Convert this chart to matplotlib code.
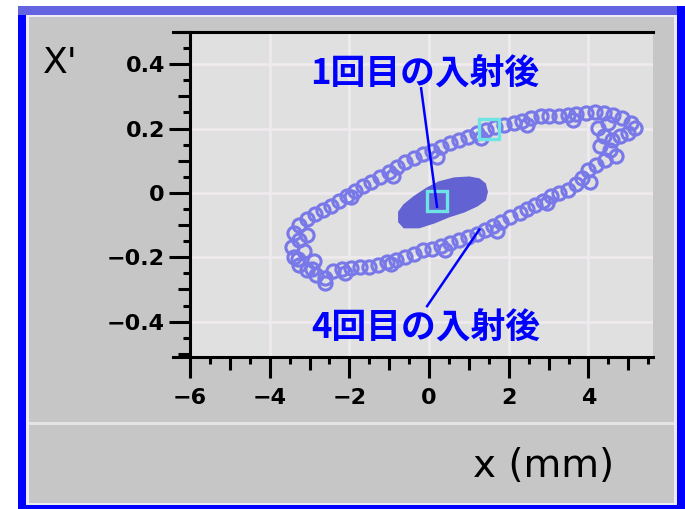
import matplotlib
matplotlib.use("Agg")
import matplotlib.pyplot as plt
from matplotlib.patches import Rectangle
from matplotlib.lines import Line2D
from matplotlib.ticker import MultipleLocator, FuncFormatter

# phase-space points after the 4th injection (x in mm, x')
ring_x = [-3.40, -3.27, -3.07, -2.87, -2.67, -2.47, -2.27, -2.07, -1.86, -1.66,
          -1.46, -1.23, -1.01, -0.81, -0.60, -0.38, -0.15, 0.08, 0.30, 0.53,
          0.76, 0.98, 1.21, 1.44, 1.66, 1.89, 2.12, 2.34, 2.57, 2.80,
          3.02, 3.25, 3.48, 3.70, 3.93, 4.16, 4.38, 4.61, 4.84, 5.06, 5.16,
          4.99, 4.79, 4.58, 4.38, 4.23, 4.28, 4.53, 4.69, 4.41, 4.18,
          3.98, 3.83, 4.03, 3.68, 3.48, 3.27, 3.07, 2.87, 2.67, 2.47,
          2.27, 2.04, 1.81, 1.61, 1.41, 1.21, 0.98, 0.76, 0.53, 0.30,
          0.08, -0.15, -0.38, -0.60, -0.83, -1.06, -1.28, -1.51, -1.74, -1.96,
          -2.19, -2.42, -2.62, -2.62, -2.85, -3.07, -3.27, -3.40, -3.45, -3.27,
          -3.07, -3.15, -2.90, -3.30, -2.95, -1.95, -0.90, 0.20, 1.30, 2.45,
          3.60, 4.50, 2.95, 1.70, 0.40, -0.95, -2.10]
ring_y = [-0.124, -0.099, -0.080, -0.065, -0.053, -0.040, -0.025, -0.009, 0.006, 0.022,
          0.034, 0.049, 0.065, 0.080, 0.096, 0.108, 0.121, 0.130, 0.142, 0.155,
          0.164, 0.173, 0.185, 0.195, 0.204, 0.210, 0.216, 0.222, 0.232, 0.238,
          0.238, 0.238, 0.241, 0.244, 0.247, 0.250, 0.247, 0.241, 0.232, 0.216, 0.201,
          0.185, 0.176, 0.164, 0.176, 0.201, 0.145, 0.133, 0.114, 0.102, 0.087,
          0.071, 0.046, 0.034, 0.028, 0.009, 0.000, -0.009, -0.025, -0.037, -0.049,
          -0.062, -0.074, -0.090, -0.102, -0.114, -0.127, -0.136, -0.145, -0.155, -0.164,
          -0.173, -0.179, -0.189, -0.198, -0.207, -0.216, -0.223, -0.229, -0.229, -0.232,
          -0.238, -0.244, -0.263, -0.281, -0.256, -0.241, -0.223, -0.198, -0.167, -0.145,
          -0.130, -0.182, -0.213, -0.205, -0.235, -0.012, 0.052, 0.112, 0.170, 0.212,
          0.225, 0.218, -0.030, -0.118, -0.178, -0.220, -0.250]

# outline of the beam after the 1st injection
first_x = [-0.76, -0.63, -0.38, -0.05, 0.25, 0.63, 1.01, 1.26, 1.41,
           1.46, 1.41, 1.21, 0.88, 0.50, 0.13, -0.25, -0.63, -0.76]
first_y = [-0.059, -0.037, -0.012, 0.015, 0.034, 0.046, 0.049, 0.043, 0.028,
           0.003, -0.022, -0.040, -0.059, -0.074, -0.093, -0.108, -0.108, -0.090]

# tracked particle
track_x = [1.5, 0.2]
track_y = [0.198, -0.025]

label_1st = "1回目の入射後"
label_4th = "4回目の入射後"
label_1st_xy = (-0.10, 0.368)
label_4th_xy = (-0.08, -0.420)
leader_1st = ([-0.20, 0.20], [0.325, -0.043])
leader_4th = ([1.26, -0.05], [-0.114, -0.352])

W, H = 685, 509
fig = plt.figure(figsize=(W / 100, H / 100), dpi=100)
fig.patch.set_facecolor("white")


def box(x0, y0, x1, y1, color, z=-10):
    fig.add_artist(Rectangle((x0 / W, 1 - y1 / H), (x1 - x0) / W, (y1 - y0) / H,
                             transform=fig.transFigure, facecolor=color,
                             edgecolor="none", zorder=z))


# window frame
box(18, 6, 685, 509, "#0000ff")
box(18, 6, 677, 15, "#6464e0")
box(26, 15, 677, 505, "#ececf4", z=-9)
box(29, 17, 674, 503, "#c6c6c6", z=-8)
box(29, 422, 674, 425, "#e4e4e4", z=-7)

ax = fig.add_axes([190 / W, 1 - 357 / H, (653 - 190) / W, (357 - 32) / H])
ax.set_facecolor("#e0e0e0")
ax.set_xlim(-6, 5.62)
ax.set_ylim(-0.51, 0.5)

ax.grid(True, which="major", color="#eeeaee", linewidth=2)
ax.set_axisbelow(True)

ax.plot(ring_x, ring_y, "o", mfc="none", mec="#7878e8", ms=9.5, mew=2.2, zorder=2)
ax.fill(first_x, first_y, color="#6262d2", zorder=3)
ax.plot(track_x, track_y, "s", mfc="none", mec="#6ee4e4", ms=15, mew=2.4, zorder=4)

ax.plot(*leader_1st, color="#0000ff", lw=1.8, zorder=5)
ax.plot(*leader_4th, color="#0000ff", lw=1.8, zorder=5)

jp = ["Noto Sans CJK JP", "DejaVu Sans"]
ax.text(*label_1st_xy, label_1st, color="#0000ff", fontsize=25, fontweight="bold",
        family=jp, ha="center", va="center", zorder=6)
ax.text(*label_4th_xy, label_4th, color="#0000ff", fontsize=25, fontweight="bold",
        family=jp, ha="center", va="center", zorder=6)

# axes and ticks
for side in ["top", "right"]:
    ax.spines[side].set_visible(False)
for side in ["left", "bottom"]:
    ax.spines[side].set_linewidth(2.2)
    ax.spines[side].set_color("black")

ax.xaxis.set_major_locator(MultipleLocator(2))
ax.xaxis.set_minor_locator(MultipleLocator(0.5))
ax.yaxis.set_major_locator(MultipleLocator(0.2))
ax.yaxis.set_minor_locator(MultipleLocator(0.05))
fmt = FuncFormatter(lambda v, pos: f"{v:g}".replace("-", "\u2212") if abs(v) > 1e-9 else "0")
ax.xaxis.set_major_formatter(fmt)
ax.yaxis.set_major_formatter(fmt)

ax.tick_params(which="major", direction="out", length=15, width=2.2,
               labelsize=16, colors="black")
ax.tick_params(axis="x", which="major", pad=7)
ax.tick_params(axis="y", which="major", pad=3)
ax.tick_params(which="minor", direction="out", length=5, width=2.2)
for lab in ax.get_xticklabels() + ax.get_yticklabels():
    lab.set_fontweight("bold")

# medium ticks on whole units (x) and tenths (x')
for axis, step in [(ax.xaxis, 1.0), (ax.yaxis, 0.1)]:
    locs = axis.get_minorticklocs()
    for loc, tick in zip(locs, axis.get_minor_ticks(len(locs))):
        if abs(loc / step - round(loc / step)) < 1e-6:
            tick.tick1line.set_markersize(9)

# frame lines running past the left spine
fig.add_artist(Line2D([173 / W, 653 / W], [1 - 32 / H, 1 - 32 / H],
                      transform=fig.transFigure, color="black", lw=2.2, zorder=5))
fig.add_artist(Line2D([173 / W, 190 / W], [1 - 357 / H, 1 - 357 / H],
                      transform=fig.transFigure, color="black", lw=2.2, zorder=5))

fig.text(43 / W, 1 - 73 / H, "X'", fontsize=26, color="black", va="baseline")
fig.text(473 / W, 1 - 477 / H, "x (mm)", fontsize=28, color="black", va="baseline")

fig.savefig("out.png", dpi=100)
